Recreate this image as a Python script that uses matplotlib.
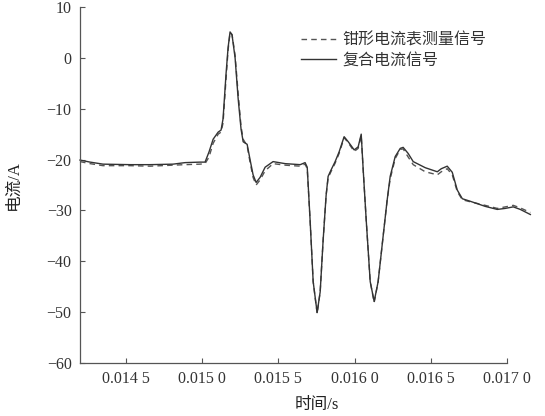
import matplotlib
matplotlib.use("Agg")
import matplotlib.pyplot as plt
from matplotlib.ticker import FixedLocator

# time axis (s)
t = [0.014200, 0.014266, 0.014351, 0.014528, 0.014659, 0.014810, 0.014889, 0.014987,
     0.015020, 0.015046, 0.015073, 0.015106, 0.015125, 0.015138, 0.015158, 0.015171,
     0.015184, 0.015197, 0.015217, 0.015237, 0.015256, 0.015270, 0.015296, 0.015315,
     0.015335, 0.015355, 0.015381, 0.015414, 0.015466, 0.015545, 0.015644, 0.015676,
     0.015690, 0.015709, 0.015729, 0.015755, 0.015775, 0.015794, 0.015814, 0.015827,
     0.015847, 0.015873, 0.015899, 0.015932, 0.015959, 0.015998, 0.016024, 0.016044,
     0.016057, 0.016077, 0.016103, 0.016129, 0.016155, 0.016188, 0.016214, 0.016234,
     0.016267, 0.016300, 0.016319, 0.016352, 0.016385, 0.016464, 0.016543, 0.016569,
     0.016608, 0.016641, 0.016674, 0.016707, 0.016759, 0.016857, 0.016936, 0.016989,
     0.017041, 0.017087, 0.017153]

# clamp meter measurement (dashed)
clamp = [-20.4, -20.8, -21.2, -21.2, -21.3, -21.1, -21.0, -20.9,
         -20.8, -19.5, -16.8, -15.0, -14.6, -12.8, -4.0, 1.5,
         5.0, 4.6, 0.5, -7.0, -13.5, -16.0, -17.3, -20.5,
         -23.5, -25.0, -24.0, -22.2, -20.8, -21.1, -21.3, -20.9,
         -21.8, -32.0, -44.0, -50.3, -46.0, -36.0, -27.0, -23.6,
         -22.3, -20.7, -18.8, -15.7, -16.7, -18.4, -17.8, -15.3,
         -22.0, -32.0, -44.0, -48.1, -44.0, -35.0, -28.0, -23.8,
         -19.8, -18.0, -17.9, -19.5, -21.0, -22.4, -23.0, -22.4,
         -21.8, -23.0, -26.3, -27.9, -28.3, -29.0, -29.6, -29.3,
         -29.0, -29.5, -30.4]

# composite current (solid)
composite = [-20.1, -20.5, -20.9, -21.0, -21.0, -20.9, -20.6, -20.5,
             -20.5, -18.5, -16.0, -14.6, -14.2, -12.0, -3.0, 2.0,
             5.1, 4.5, 0.0, -8.0, -14.0, -16.5, -17.0, -20.0,
             -23.0, -24.5, -23.5, -21.5, -20.4, -20.8, -21.0, -20.6,
             -21.5, -32.0, -44.0, -50.1, -46.0, -36.0, -27.0, -23.3,
             -22.0, -20.4, -18.5, -15.5, -16.5, -18.1, -17.5, -15.0,
             -22.0, -32.0, -44.0, -47.9, -44.0, -35.0, -28.0, -23.3,
             -19.4, -17.8, -17.6, -18.8, -20.4, -21.6, -22.4, -21.8,
             -21.3, -22.5, -26.0, -27.7, -28.2, -29.2, -29.8, -29.6,
             -29.3, -29.8, -30.8]

xticks = [0.0145, 0.0150, 0.0155, 0.0160, 0.0165, 0.0170]
xticklabels = ["0.014 5", "0.015 0", "0.015 5", "0.016 0", "0.016 5", "0.017 0"]
yticks = [-60, -50, -40, -30, -20, -10, 0, 10]

cjk = ["Liberation Serif", "Noto Sans CJK SC"]
leg_font = ["Noto Sans CJK SC", "DejaVu Sans"]

fig = plt.figure(figsize=(5.45, 4.16), dpi=100)
ax = fig.add_axes([80 / 545, 53 / 416, 427 / 545, 356 / 416])

ax.plot(t, clamp, color="#555555", lw=1.0, ls=(0, (4, 3)), clip_on=False,
        label="钳形电流表测量信号")
ax.plot(t, composite, color="#333333", lw=1.0, clip_on=False, label="复合电流信号")

ax.set_xlim(0.0142, 0.0170)
ax.set_ylim(-60, 10)
ax.xaxis.set_major_locator(FixedLocator(xticks))
ax.set_xticklabels(xticklabels)
ax.yaxis.set_major_locator(FixedLocator(yticks))

for s in ("top", "right"):
    ax.spines[s].set_visible(False)
for s in ("left", "bottom"):
    ax.spines[s].set_color("#555555")
    ax.spines[s].set_linewidth(0.9)

ax.tick_params(direction="in", length=3.5, width=0.8, color="#555555",
               labelsize=11.5, labelcolor="#333333", pad=6)
for lab in ax.get_xticklabels() + ax.get_yticklabels():
    lab.set_family("Liberation Serif")

ax.set_xlabel("时间/s", family=cjk, fontsize=12, color="#222222")
ax.xaxis.set_label_coords(0.555, -0.095)
ax.set_ylabel("电流/A", family=cjk, fontsize=12, color="#222222")
ax.yaxis.set_label_coords(-0.137, 0.5)

ax.legend(loc="upper left", bbox_to_anchor=(293 / 545, 1 - 24 / 416),
          bbox_transform=fig.transFigure, frameon=False,
          prop={"family": leg_font, "size": 11.5}, handlelength=2.2,
          handletextpad=0.4, borderpad=0, labelspacing=0.15, labelcolor="#333333")

fig.savefig("out.png", dpi=100)
